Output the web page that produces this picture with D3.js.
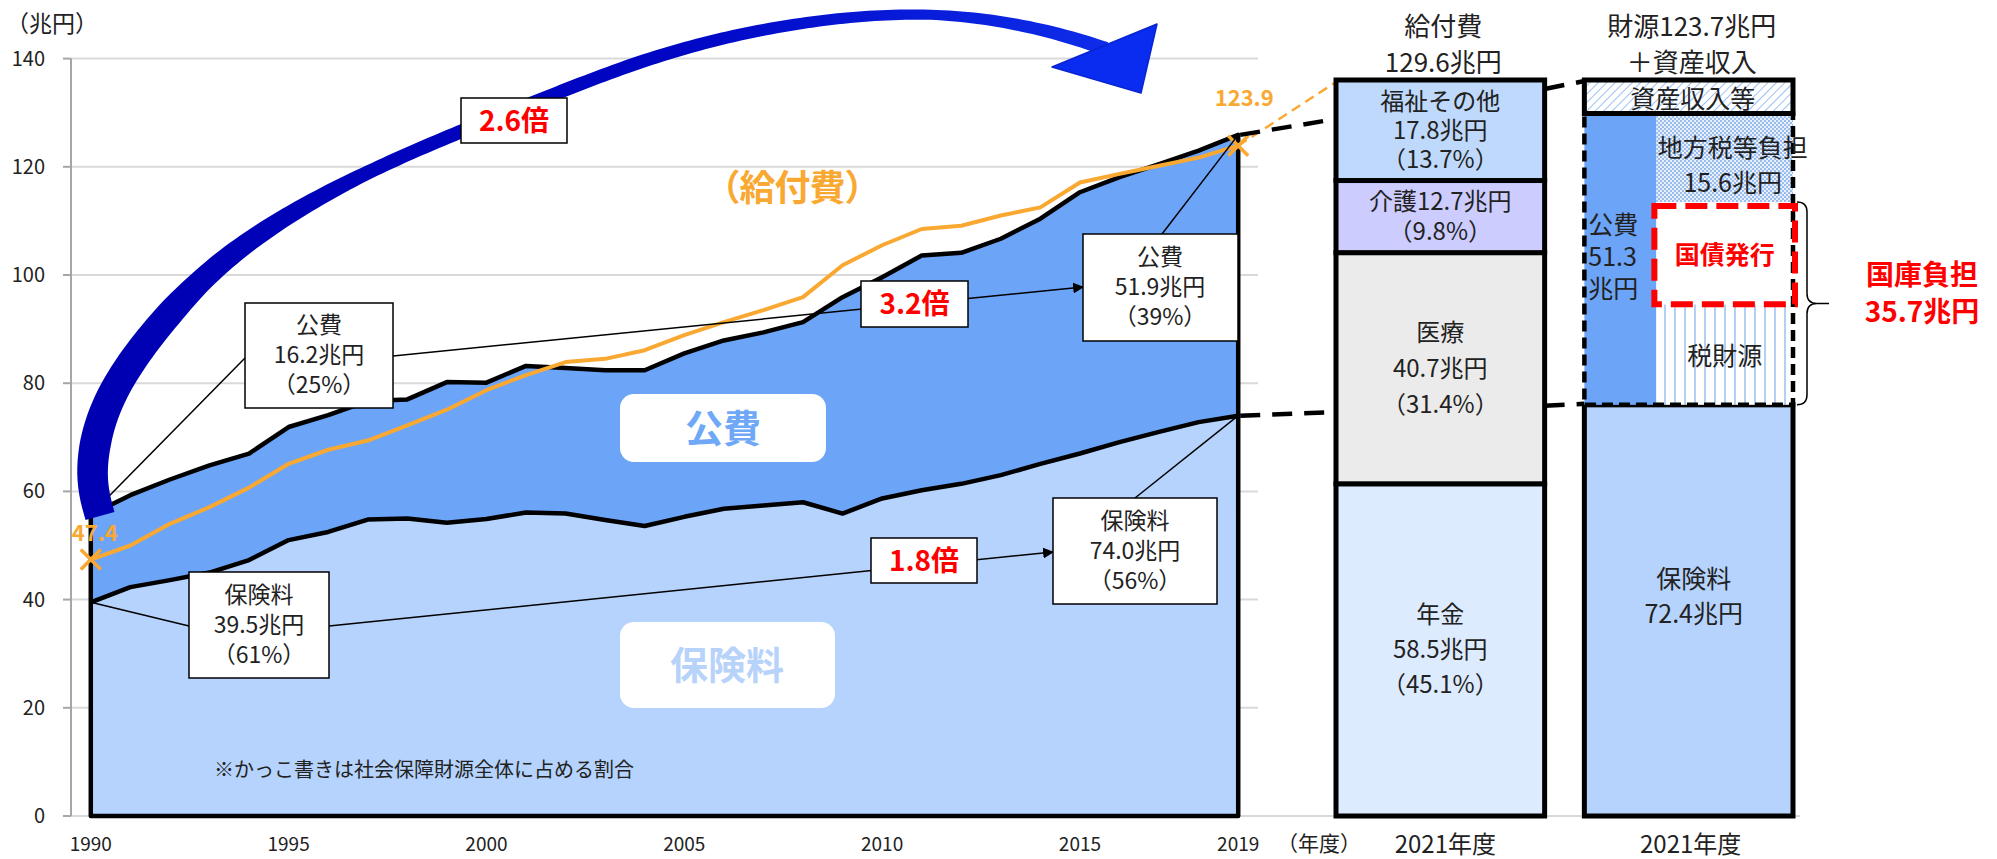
<!DOCTYPE html>
<html>
<head>
<meta charset="utf-8">
<script src="https://cdn.jsdelivr.net/npm/d3@7"></script>
<style>
  body { margin: 0; background: #fff; }
  text { font-family: "Noto Sans CJK JP", "Noto Sans", sans-serif; }
</style>
</head>
<body>
<svg></svg>
<script>
// 年度
const years = [1990, 1991, 1992, 1993, 1994, 1995, 1996, 1997, 1998, 1999,
  2000, 2001, 2002, 2003, 2004, 2005, 2006, 2007, 2008, 2009,
  2010, 2011, 2012, 2013, 2014, 2015, 2016, 2017, 2018, 2019]
// 保険料（兆円）
const hokenryo = [39.5, 42.3, 43.6, 45.0, 47.3, 51.0, 52.5, 54.8, 55.0, 54.2,
  54.9, 56.1, 55.9, 54.7, 53.6, 55.3, 56.8, 57.4, 58.0, 55.9,
  58.7, 60.2, 61.4, 63.0, 65.1, 67.0, 69.1, 71.0, 72.8, 74.0]
// 公費（兆円）
const kouhi = [16.2, 17.0, 18.6, 19.8, 19.7, 20.9, 21.6, 21.9, 22.0, 26.0,
  25.2, 27.1, 26.9, 27.7, 28.8, 30.2, 31.1, 32.0, 33.3, 40.0,
  40.9, 43.4, 42.7, 43.7, 45.3, 48.3, 49.0, 49.5, 50.2, 51.9]
// 給付費（兆円）
const kyufu = [47.4, 50.0, 54.0, 57.1, 60.7, 65.1, 67.7, 69.4, 72.2, 75.1,
  78.7, 81.5, 83.9, 84.5, 86.1, 88.9, 91.3, 93.5, 95.9, 101.8,
  105.5, 108.5, 109.1, 111.0, 112.5, 117.1, 118.7, 120.2, 121.7, 123.9]
// 社会保障財源全体に占める割合（%）：1990, 2019
const kouhiShare = [25, 39]
const hokenryoShare = [61, 56]

const yTicks = [0, 20, 40, 60, 80, 100, 120, 140]
const xTickYears = [1990, 1995, 2000, 2005, 2010, 2015, 2019]

// 2021年度 給付費の内訳
const kyufuTotal2021 = 129.6
const kyufuParts = ['年金', '医療', '介護', '福祉その他']
const kyufuValues = [58.5, 40.7, 12.7, 17.8]
const kyufuShares = [45.1, 31.4, 9.8, 13.7]
// 2021年度 財源の内訳
const zaigenParts = ['保険料', '税財源', '国債発行', '地方税等負担', '資産収入等']
const zaigenValues = [72.4, 17.7, 18.0, 15.6, 5.9]

const width = 1997
const height = 859

const x = d3.scalePoint().domain(years).range([71, 1258]).padding(0.5)
const y = d3.scaleLinear().domain([0, 140]).range([816, 58.6])

const xb = d3.scaleBand().domain(['給付費', '財源']).range([1336, 1793]).paddingInner(0.16)
const yb = d3.scaleLinear().domain([0, kyufuTotal2021]).range([816, 80])

const orange = '#F9A832'
const areaColors = ['#B5D3FC', '#6CA4F8']

const svg = d3.select('svg')
  .attr('width', width)
  .attr('height', height)

// patterns
const defs = svg.append('defs')
defs.append('pattern').attr('id', 'diag').attr('width', 6).attr('height', 6)
  .attr('patternUnits', 'userSpaceOnUse').attr('patternTransform', 'rotate(45)')
  .call(p => p.append('rect').attr('width', 6).attr('height', 6).attr('fill', '#fff'))
  .call(p => p.append('line').attr('x1', 0).attr('y1', 0).attr('x2', 0).attr('y2', 6)
    .attr('stroke', '#9CC2F2').attr('stroke-width', 2))
defs.append('pattern').attr('id', 'cross').attr('width', 4).attr('height', 4)
  .attr('patternUnits', 'userSpaceOnUse')
  .call(p => p.append('rect').attr('width', 4).attr('height', 4).attr('fill', '#E6EFFB'))
  .call(p => p.append('rect').attr('width', 2).attr('height', 2).attr('fill', '#9BBDEB'))
  .call(p => p.append('rect').attr('x', 2).attr('y', 2).attr('width', 2).attr('height', 2).attr('fill', '#9BBDEB'))
defs.append('pattern').attr('id', 'vert').attr('width', 10).attr('height', 10)
  .attr('patternUnits', 'userSpaceOnUse')
  .call(p => p.append('rect').attr('width', 10).attr('height', 10).attr('fill', '#fff'))
  .call(p => p.append('line').attr('x1', 5).attr('y1', 0).attr('x2', 5).attr('y2', 10)
    .attr('stroke', '#A3C4F2').attr('stroke-width', 1.6))
defs.append('marker').attr('id', 'head').attr('viewBox', '0 0 10 10')
  .attr('refX', 9).attr('refY', 5).attr('markerWidth', 11).attr('markerHeight', 11)
  .attr('markerUnits', 'userSpaceOnUse').attr('orient', 'auto')
  .append('path').attr('d', 'M0,0L10,5L0,10Z').attr('fill', '#000')
const grad = defs.append('linearGradient').attr('id', 'arcGrad')
  .attr('gradientUnits', 'userSpaceOnUse')
  .attr('x1', 80).attr('y1', 0).attr('x2', 1160).attr('y2', 0)
grad.append('stop').attr('offset', 0).attr('stop-color', '#0000B2')
grad.append('stop').attr('offset', 0.55).attr('stop-color', '#0006C4')
grad.append('stop').attr('offset', 1).attr('stop-color', '#1032EE')

function multiline (g, lines, cx, cy, lineHeight) {
  const t = g.append('text').attr('text-anchor', 'middle')
  lines.forEach((line, i) => {
    t.append('tspan')
      .attr('x', cx)
      .attr('y', cy + (i - (lines.length - 1) / 2) * lineHeight)
      .attr('dy', '0.35em')
      .text(line)
  })
  return t
}

function grid (g) {
  g.selectAll('line')
    .data(yTicks)
    .join('line')
    .attr('x1', 71)
    .attr('x2', d => d === 0 ? 1800 : 1258)
    .attr('y1', d => y(d))
    .attr('y2', d => y(d))
    .attr('stroke', '#D9D9D9')
    .attr('stroke-width', 2)
}

function yAxis (g) {
  g.append('line')
    .attr('x1', 71).attr('x2', 71)
    .attr('y1', y(0)).attr('y2', y(140))
    .attr('stroke', '#A6A6A6').attr('stroke-width', 2)
  g.selectAll('.tk')
    .data(yTicks)
    .join('line')
    .attr('class', 'tk')
    .attr('x1', 63).attr('x2', 71)
    .attr('y1', d => y(d)).attr('y2', d => y(d))
    .attr('stroke', '#A6A6A6').attr('stroke-width', 2)
  g.selectAll('text')
    .data(yTicks)
    .join('text')
    .attr('x', 45)
    .attr('y', d => y(d))
    .attr('dy', '0.35em')
    .attr('text-anchor', 'end')
    .attr('font-size', 20)
    .attr('fill', '#222')
    .text(d => d)
  g.append('text')
    .attr('x', 6).attr('y', 24).attr('dy', '0.35em')
    .attr('font-size', 23).attr('fill', '#222')
    .text('（兆円）')
}

function xAxis (g) {
  g.selectAll('text')
    .data(xTickYears)
    .join('text')
    .attr('x', d => x(d))
    .attr('y', 844)
    .attr('dy', '0.35em')
    .attr('text-anchor', 'middle')
    .attr('font-size', 19)
    .attr('fill', '#222')
    .text(d => d)
  g.append('text')
    .attr('x', 1319).attr('y', 844).attr('dy', '0.35em')
    .attr('text-anchor', 'middle')
    .attr('font-size', 21).attr('fill', '#222')
    .text('（年度）')
}

const table = years.map((yr, i) => ({ year: yr, hokenryo: hokenryo[i], kouhi: kouhi[i] }))
const stacked = d3.stack().keys(['hokenryo', 'kouhi'])(table)

function areas (g) {
  g.selectAll('path')
    .data(stacked)
    .join('path')
    .attr('fill', (d, i) => areaColors[i])
    .attr('d', d3.area()
      .x(d => x(d.data.year))
      .y0(d => y(d[0]))
      .y1(d => y(d[1])))
  // outline of the whole area
  g.append('path')
    .attr('fill', 'none')
    .attr('stroke', '#000')
    .attr('stroke-width', 4.5)
    .attr('stroke-linejoin', 'round')
    .attr('d', d3.area()
      .x(d => x(d.data.year))
      .y0(y(0))
      .y1(d => y(d[1]))(stacked[1]))
  // border between 保険料 and 公費
  g.append('path')
    .attr('fill', 'none')
    .attr('stroke', '#000')
    .attr('stroke-width', 4.5)
    .attr('stroke-linejoin', 'round')
    .attr('d', d3.line()
      .x(d => x(d.data.year))
      .y(d => y(d[1]))(stacked[0]))
}

function kyufuLine (g) {
  g.append('path')
    .datum(years.map((yr, i) => [yr, kyufu[i]]))
    .attr('fill', 'none')
    .attr('stroke', orange)
    .attr('stroke-width', 4)
    .attr('stroke-linejoin', 'round')
    .attr('d', d3.line().x(d => x(d[0])).y(d => y(d[1])))
  const ends = [[years[0], kyufu[0]], [years[years.length - 1], kyufu[kyufu.length - 1]]]
  g.selectAll('.mk')
    .data(ends)
    .join('path')
    .attr('class', 'mk')
    .attr('transform', d => `translate(${x(d[0])},${y(d[1])})`)
    .attr('d', 'M-10,-10L10,10M-10,10L10,-10')
    .attr('stroke', orange)
    .attr('stroke-width', 3.5)
  g.selectAll('.vl')
    .data(ends)
    .join('text')
    .attr('class', 'vl')
    .attr('x', (d, i) => x(d[0]) + (i === 0 ? 4 : 6))
    .attr('y', (d, i) => y(d[1]) - (i === 0 ? 26 : 47))
    .attr('dy', '0.35em')
    .attr('text-anchor', 'middle')
    .attr('font-size', 22)
    .attr('font-weight', 'bold')
    .attr('fill', orange)
    .text(d => d[1].toFixed(1))
  g.append('text')
    .attr('x', 792).attr('y', 188).attr('dy', '0.35em')
    .attr('text-anchor', 'middle')
    .attr('font-size', 36)
    .attr('font-weight', 'bold')
    .attr('letter-spacing', -1)
    .attr('fill', orange)
    .text('（給付費）')
}

function box (g, bx, by, bw, bh) {
  g.append('rect')
    .attr('x', bx).attr('y', by).attr('width', bw).attr('height', bh)
    .attr('fill', '#fff').attr('stroke', '#000').attr('stroke-width', 1.5)
}

function annotations (g) {
  const first = 0
  const last = years.length - 1
  g.attr('stroke', '#000').attr('stroke-width', 1.5)
  // leader lines
  g.append('line').attr('x1', 245).attr('y1', 358)
    .attr('x2', x(years[first])).attr('y2', y(hokenryo[first] + kouhi[first]))
  g.append('line').attr('x1', 393).attr('y1', 356)
    .attr('x2', 1083).attr('y2', 287).attr('marker-end', 'url(#head)')
  g.append('line').attr('x1', 1162).attr('y1', 234)
    .attr('x2', x(years[last])).attr('y2', y(hokenryo[last] + kouhi[last]))
  g.append('line').attr('x1', x(years[first])).attr('y1', y(hokenryo[first]))
    .attr('x2', 189).attr('y2', 626)
  g.append('line').attr('x1', 329).attr('y1', 626)
    .attr('x2', 1053).attr('y2', 552).attr('marker-end', 'url(#head)')
  g.append('line').attr('x1', 1135).attr('y1', 498)
    .attr('x2', x(years[last])).attr('y2', y(hokenryo[last]))
}

function labelBoxes (g) {
  const first = 0
  const last = years.length - 1
  box(g, 245, 303, 148, 105)
  box(g, 1083, 234, 155, 107)
  box(g, 189, 572, 140, 106)
  box(g, 1053, 498, 164, 106)
  g.append('g').attr('font-size', 23).attr('fill', '#222')
    .call(s => multiline(s, ['公費', `${kouhi[first]}兆円`, `（${kouhiShare[0]}%）`], 319, 355, 30))
    .call(s => multiline(s, ['公費', `${kouhi[last]}兆円`, `（${kouhiShare[1]}%）`], 1160, 287, 30))
    .call(s => multiline(s, ['保険料', `${hokenryo[first]}兆円`, `（${hokenryoShare[0]}%）`], 259, 625, 30))
    .call(s => multiline(s, ['保険料', `${hokenryo[last].toFixed(1)}兆円`, `（${hokenryoShare[1]}%）`], 1135, 551, 30))
  // growth ratios (truncated to one decimal)
  const trunc = v => (Math.floor(v * 10) / 10).toFixed(1)
  const ratios = [
    [kyufu[last] / kyufu[first], 461, 98, 106, 45],
    [kouhi[last] / kouhi[first], 861, 281, 107, 46],
    [hokenryo[last] / hokenryo[first], 871, 538, 106, 45]
  ]
  ratios.forEach(r => {
    box(g, r[1], r[2], r[3], r[4])
    g.append('text')
      .attr('x', r[1] + r[3] / 2).attr('y', r[2] + r[4] / 2).attr('dy', '0.36em')
      .attr('text-anchor', 'middle')
      .attr('font-size', 28).attr('font-weight', 'bold').attr('fill', '#FF0000')
      .text(`${trunc(r[0])}倍`)
  })
}

function areaTitles (g) {
  g.append('rect').attr('x', 620).attr('y', 394).attr('width', 206).attr('height', 68)
    .attr('rx', 14).attr('fill', '#fff')
  g.append('text').attr('x', 723).attr('y', 428).attr('dy', '0.36em')
    .attr('text-anchor', 'middle').attr('font-size', 38).attr('font-weight', 'bold')
    .attr('fill', '#6EA8F7').text('公費')
  g.append('rect').attr('x', 620).attr('y', 622).attr('width', 215).attr('height', 86)
    .attr('rx', 14).attr('fill', '#fff')
  g.append('text').attr('x', 727).attr('y', 665).attr('dy', '0.36em')
    .attr('text-anchor', 'middle').attr('font-size', 38).attr('font-weight', 'bold')
    .attr('fill', '#B7D3FA').text('保険料')
  g.append('text').attr('x', 214).attr('y', 770).attr('dy', '0.35em')
    .attr('font-size', 20).attr('fill', '#222')
    .text('※かっこ書きは社会保障財源全体に占める割合')
}

function bigArrow (g) {
  const pts = [[100, 516], [90, 480], [96, 430], [118, 378], [170, 310],
    [240, 242], [370, 167], [540, 100], [660, 52],
    [800, 20], [940, 10], [1050, 30], [1106, 49]]
  const guide = g.append('path')
    .attr('d', d3.line().curve(d3.curveBasis)(pts))
    .attr('fill', 'none')
  const node = guide.node()
  const len = node.getTotalLength()
  const w = d3.scaleLinear()
    .domain([0, 0.06, 0.18, 0.22, 0.3, 0.38, 0.63, 0.86, 1])
    .range([30, 31, 27, 23, 18, 14, 13, 10, 14])
  const n = 200
  const left = []
  const right = []
  for (let i = 0; i <= n; i++) {
    const t = i / n
    const p = node.getPointAtLength(t * len)
    const q = node.getPointAtLength(Math.min(len, t * len + 1))
    const r = node.getPointAtLength(Math.max(0, t * len - 1))
    const dx = q.x - r.x
    const dy = q.y - r.y
    const dl = Math.hypot(dx, dy) || 1
    const nx = -dy / dl
    const ny = dx / dl
    const hw = w(t) / 2
    left.push([p.x + nx * hw, p.y + ny * hw])
    right.push([p.x - nx * hw, p.y - ny * hw])
  }
  guide.remove()
  const poly = left.concat(right.reverse())
  g.append('path')
    .attr('d', 'M' + poly.map(p => p.join(',')).join('L') + 'Z')
    .attr('fill', 'url(#arcGrad)')
  g.append('path')
    .attr('d', 'M1052,67L1157,24L1141,93Z')
    .attr('fill', '#0A2CF0')
    .attr('stroke', '#0A24D0')
    .attr('stroke-width', 1.5)
    .attr('stroke-linejoin', 'round')
}

function connectors (g) {
  const last = years.length - 1
  const x19 = x(years[last])
  g.attr('fill', 'none')
  g.append('line')
    .attr('x1', x19).attr('y1', y(kyufu[last]))
    .attr('x2', xb('給付費')).attr('y2', yb(kyufuTotal2021) + 2)
    .attr('stroke', orange).attr('stroke-width', 2.5).attr('stroke-dasharray', '10,6')
  g.append('line')
    .attr('x1', x19 + 2).attr('y1', y(hokenryo[last] + kouhi[last]))
    .attr('x2', xb('給付費')).attr('y2', 119)
    .attr('stroke', '#000').attr('stroke-width', 4.5).attr('stroke-dasharray', '20,12')
  g.append('line')
    .attr('x1', x19 + 2).attr('y1', y(hokenryo[last]))
    .attr('x2', xb('給付費')).attr('y2', 412)
    .attr('stroke', '#000').attr('stroke-width', 4.5).attr('stroke-dasharray', '20,12')
  const x1 = xb('給付費') + xb.bandwidth()
  const x2 = xb('財源')
  g.append('line')
    .attr('x1', x1).attr('y1', 89).attr('x2', x2).attr('y2', 81)
    .attr('stroke', '#000').attr('stroke-width', 4.5).attr('stroke-dasharray', '20,12')
  g.append('line')
    .attr('x1', x1).attr('y1', yb(zaigenValues[0]) + 1).attr('x2', x2).attr('y2', yb(zaigenValues[0]) - 1)
    .attr('stroke', '#000').attr('stroke-width', 4.5).attr('stroke-dasharray', '20,12')
}

function kyufuBar (g) {
  const bx = xb('給付費')
  const bw = xb.bandwidth()
  const cum = d3.cumsum(kyufuValues)
  const fills = ['#DDEBFF', '#EBEBEB', '#CCCCFF', '#BFD9FC']
  g.selectAll('rect')
    .data(kyufuParts)
    .join('rect')
    .attr('x', bx)
    .attr('width', bw)
    .attr('y', (d, i) => yb(Math.min(cum[i], kyufuTotal2021)))
    .attr('height', (d, i) => yb(cum[i] - kyufuValues[i]) - yb(Math.min(cum[i], kyufuTotal2021)))
    .attr('fill', (d, i) => fills[i])
    .attr('stroke', '#000')
    .attr('stroke-width', 5)
  const labels = [
    [kyufuParts[0], `${kyufuValues[0]}兆円`, `（${kyufuShares[0]}%）`],
    [kyufuParts[1], `${kyufuValues[1]}兆円`, `（${kyufuShares[1]}%）`],
    [`${kyufuParts[2]}${kyufuValues[2]}兆円`, `（${kyufuShares[2]}%）`],
    [kyufuParts[3], `${kyufuValues[3]}兆円`, `（${kyufuShares[3]}%）`]
  ]
  const lh = [35, 36, 30, 29]
  const tg = g.append('g').attr('font-size', 24).attr('fill', '#222')
  kyufuParts.forEach((p, i) => {
    const cy = (yb(Math.min(cum[i], kyufuTotal2021)) + yb(cum[i] - kyufuValues[i])) / 2
    multiline(tg, labels[i], bx + bw / 2, cy, lh[i])
  })
  g.append('g').attr('font-size', 26).attr('fill', '#222')
    .call(s => multiline(s, ['給付費', `${kyufuTotal2021}兆円`], bx + bw / 2 + 3, 45, 36))
  g.append('text').attr('x', bx + bw / 2 + 5).attr('y', 845).attr('dy', '0.35em')
    .attr('text-anchor', 'middle').attr('font-size', 24).attr('fill', '#222').text('2021年度')
}

function zaigenBar (g) {
  const bx = xb('財源')
  const bw = xb.bandwidth()
  const cum = d3.cumsum(zaigenValues)
  const top = i => yb(cum[i])
  const bot = i => yb(cum[i] - zaigenValues[i])
  const colW = 72
  const kouhiTotal = zaigenValues[1] + zaigenValues[2] + zaigenValues[3]
  const zaigenTotal = zaigenValues[0] + kouhiTotal
  // 保険料
  g.append('rect').attr('x', bx).attr('width', bw).attr('y', top(0)).attr('height', bot(0) - top(0))
    .attr('fill', '#B5D3FC').attr('stroke', '#000').attr('stroke-width', 5)
  // 公費 column
  g.append('rect').attr('x', bx).attr('width', colW).attr('y', top(3)).attr('height', bot(1) - top(3))
    .attr('fill', '#6CA4F8')
  // 税財源, 国債発行, 地方税等負担
  const fills = [null, 'url(#vert)', '#fff', 'url(#cross)']
  ;[1, 2, 3].forEach(i => {
    g.append('rect').attr('x', bx + colW).attr('width', bw - colW)
      .attr('y', top(i)).attr('height', bot(i) - top(i)).attr('fill', fills[i])
  })
  // 資産収入等
  g.append('rect').attr('x', bx).attr('width', bw).attr('y', top(4)).attr('height', bot(4) - top(4))
    .attr('fill', 'url(#diag)').attr('stroke', '#000').attr('stroke-width', 5)
  // dashed frame of 公費
  g.append('rect').attr('x', bx).attr('width', bw).attr('y', top(3)).attr('height', bot(1) - top(3))
    .attr('fill', 'none').attr('stroke', '#000').attr('stroke-width', 4.5).attr('stroke-dasharray', '11,6')
  // red dashed frame of 国債発行
  g.append('rect').attr('x', bx + colW - 2).attr('width', bw - colW + 4)
    .attr('y', top(2) + 4).attr('height', bot(2) - top(2) - 4)
    .attr('fill', 'none').attr('stroke', '#FF0000').attr('stroke-width', 6).attr('stroke-dasharray', '22,9')

  const tg = g.append('g').attr('font-size', 25).attr('fill', '#222')
  const rc = bx + colW + (bw - colW) / 2
  multiline(tg, [zaigenParts[0], `${zaigenValues[0]}兆円`], bx + bw / 2 + 5, (top(0) + bot(0)) / 2 - 14, 35)
  multiline(tg, [zaigenParts[1]], rc, (top(1) + bot(1)) / 2 + 2, 30)
  multiline(tg, [zaigenParts[3], `${zaigenValues[3]}兆円`], rc + 8, (top(3) + bot(3)) / 2 + 8, 35)
  multiline(tg, [zaigenParts[4]], bx + bw / 2 + 4, (top(4) + bot(4)) / 2 + 2, 30)
  tg.append('text').selectAll('tspan')
    .data(['公費', kouhiTotal.toFixed(1), '兆円'])
    .join('tspan')
    .attr('x', bx + 4)
    .attr('y', (d, i) => 225 + i * 32)
    .attr('dy', '0.35em')
    .text(d => d)
  g.append('text').attr('x', rc).attr('y', (top(2) + bot(2)) / 2 + 2).attr('dy', '0.35em')
    .attr('text-anchor', 'middle').attr('font-size', 25).attr('font-weight', 'bold')
    .attr('fill', '#FF0000').text(zaigenParts[2])

  // brace and 国庫負担
  const b0 = top(2)
  const b1 = bot(1)
  const bm = (b0 + b1) / 2
  const bxr = bx + bw + 14
  g.append('path')
    .attr('d', `M${bxr - 10},${b0}Q${bxr},${b0} ${bxr},${b0 + 10}L${bxr},${bm - 10}Q${bxr},${bm} ${bxr + 10},${bm}L${bxr + 22},${bm}` +
      `M${bxr + 10},${bm}Q${bxr},${bm} ${bxr},${bm + 10}L${bxr},${b1 - 10}Q${bxr},${b1} ${bxr - 10},${b1}`)
    .attr('fill', 'none').attr('stroke', '#000').attr('stroke-width', 1.5)
  g.append('g').attr('font-size', 28).attr('font-weight', 'bold').attr('fill', '#FF0000')
    .call(s => multiline(s, ['国庫負担', `${(zaigenValues[1] + zaigenValues[2]).toFixed(1)}兆円`], 1922, 294, 37))

  g.append('g').attr('font-size', 26).attr('fill', '#222')
    .call(s => multiline(s, [`財源${zaigenTotal.toFixed(1)}兆円`, '＋資産収入'], bx + bw / 2 + 3, 45, 36))
  g.append('text').attr('x', bx + bw / 2 + 2).attr('y', 845).attr('dy', '0.35em')
    .attr('text-anchor', 'middle').attr('font-size', 24).attr('fill', '#222').text('2021年度')
}

svg.append('g').call(grid)
svg.append('g').call(yAxis)
svg.append('g').call(xAxis)
svg.append('g').call(areas)
svg.append('g').call(areaTitles)
svg.append('g').call(kyufuLine)
svg.append('g').call(annotations)
svg.append('g').call(bigArrow)
svg.append('g').call(labelBoxes)
svg.append('g').call(connectors)
svg.append('g').call(kyufuBar)
svg.append('g').call(zaigenBar)
</script>
</body>
</html>
